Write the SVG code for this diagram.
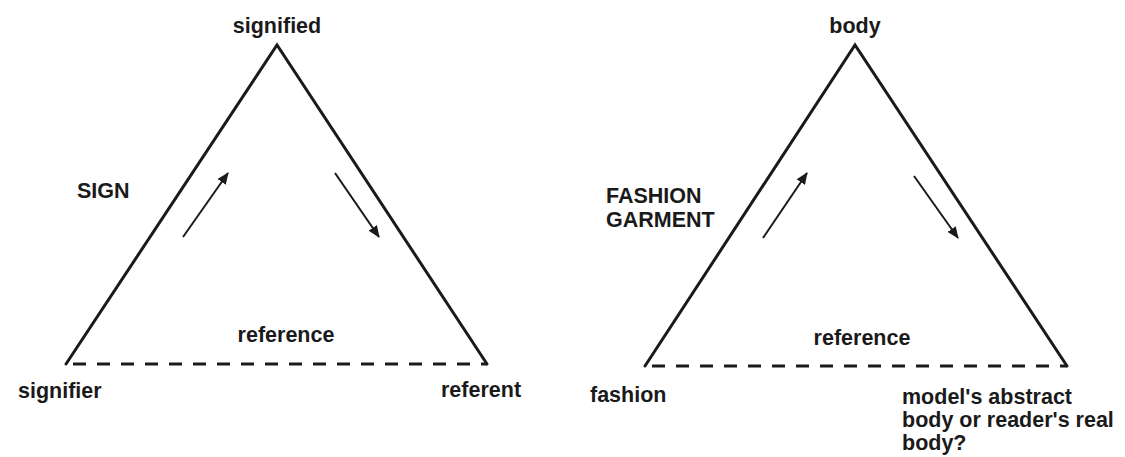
<svg xmlns="http://www.w3.org/2000/svg" width="1125" height="457" viewBox="0 0 1125 457">
<style>
text{font-family:"Liberation Sans",Arial,sans-serif;font-weight:bold;font-size:21.5px;fill:#1a1a1a}
.side{stroke:#1a1a1a;stroke-width:3;fill:none;stroke-linecap:round}
.dash{stroke:#1a1a1a;stroke-width:3;fill:none;stroke-dasharray:13 11}
.arr{stroke:#1a1a1a;stroke-width:2;fill:none;marker-end:url(#ah)}
</style>
<defs>
<marker id="ah" viewBox="0 0 12 10" refX="11" refY="5" markerWidth="12" markerHeight="10" markerUnits="userSpaceOnUse" orient="auto">
<path d="M0,0 L12,5 L0,10 Z" fill="#1a1a1a"/>
</marker>
</defs>
<rect width="1125" height="457" fill="#fff"/>
<g id="connectors">
<polyline class="side" points="66,364 277,45 487,364"/>
<line class="dash" x1="73" y1="364" x2="487" y2="364"/>
<line class="arr" x1="183" y1="237" x2="228" y2="173"/>
<line class="arr" x1="335" y1="173" x2="379" y2="237"/>
<polyline class="side" points="645,366 855,45 1067,366"/>
<line class="dash" x1="652" y1="366" x2="1067" y2="366"/>
<line class="arr" x1="763" y1="238" x2="807" y2="173"/>
<line class="arr" x1="914" y1="176" x2="958" y2="238"/>
</g>
<g id="signified"><text x="277" y="33" text-anchor="middle">signified</text></g>
<g id="sign"><text x="77" y="198">SIGN</text></g>
<g id="reference1"><text x="286" y="342" text-anchor="middle">reference</text></g>
<g id="signifier"><text x="18" y="398">signifier</text></g>
<g id="referent"><text x="441" y="397">referent</text></g>
<g id="body"><text x="855" y="33" text-anchor="middle">body</text></g>
<g id="fashion-garment"><text x="606" y="203">FASHION</text><text x="606" y="227">GARMENT</text></g>
<g id="reference2"><text x="862" y="345" text-anchor="middle">reference</text></g>
<g id="fashion"><text x="590" y="402">fashion</text></g>
<g id="model-body"><text x="902" y="404">model's abstract</text><text x="902" y="427">body or reader's real</text><text x="902" y="450">body?</text></g>
</svg>
